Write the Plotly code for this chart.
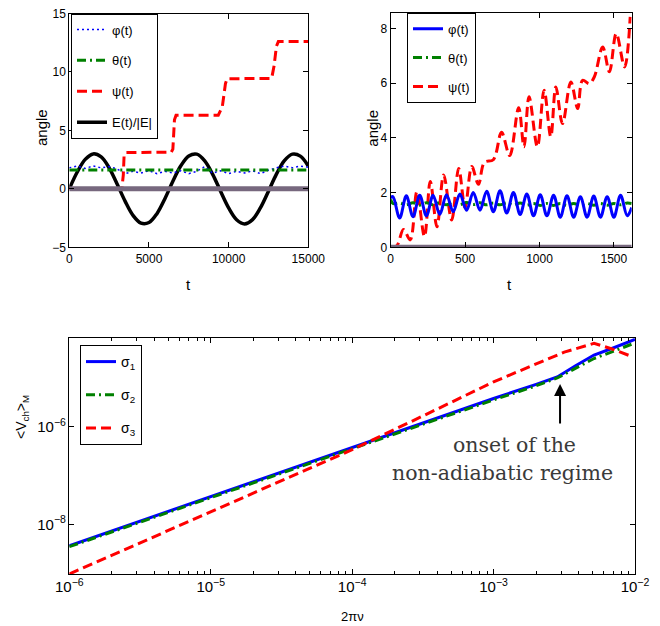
import plotly.graph_objects as go

W, H = 660, 626
OFF = 8  # page body margin of the browser
FW, FH = W - OFF, H - OFF
FONT = "Liberation Sans, Arial, sans-serif"

# ---------------- top-left panel data ----------------
tl_t = [0, 500, 1000, 1500, 2000, 2500, 3000, 3500, 4000, 4500, 5000, 5500, 6000, 6500,
        7000, 7500, 8000, 8500, 9000, 9500, 10000, 10500, 11000, 11500, 12000, 12500,
        13000, 13500, 14000, 14500, 15000]
tl_E = [0.0, 1.44, 2.52, 2.99, 2.73, 1.80, 0.42, -1.05, -2.27, -2.93, -2.88, -2.12, -0.84, 0.65,
        1.97, 2.81, 2.97, 2.40, 1.24, -0.23, -1.63, -2.64, -3.00, -2.63, -1.61, -0.20,
        1.26, 2.41, 2.97, 2.80, 1.95]
tl_phi = [1.8, 1.95, 1.75, 1.95, 1.8, 1.9, 1.7, 1.3, 1.5, 1.35, 1.55, 1.3, 1.5, 1.35, 1.55,
          1.3, 1.5, 1.9, 1.35, 1.55, 1.3, 1.5, 1.35, 1.55, 1.3, 1.6, 1.8, 1.95, 1.8, 1.95, 1.85]
tl_theta_t = [0, 15000]
tl_theta = [1.62, 1.62]
tl_psi_t = [0, 3300, 3390, 3440, 3560, 6400, 6500, 6600, 6700, 9350, 9600, 9800, 9900,
            12700, 12850, 13000, 13120, 15000]
tl_psi = [0.0, 0.0, 1.2, 2.9, 3.1, 3.14, 3.4, 5.9, 6.3, 6.3, 7.0, 9.0, 9.42, 9.45, 10.5,
          12.2, 12.6, 12.6]
tl_zero_t = [0, 15000]
tl_zero = [0, 0]

# ---------------- top-right panel data ----------------
tr_phi_t = [0, 15, 60, 105, 150, 195, 240, 285, 330, 375, 420, 465, 510, 555, 600, 645, 690,
            735, 780, 825, 870, 915, 960, 1005, 1050, 1095, 1140, 1185, 1230, 1275, 1320,
            1365, 1410, 1455, 1500, 1545, 1590, 1620]
tr_phi = [1.8, 1.85, 1.07, 1.88, 1.12, 1.9, 1.15, 1.9, 1.2, 1.92, 1.3, 1.95, 1.35, 2.0, 1.35,
          2.05, 1.3, 2.07, 1.25, 2.0, 1.2, 1.95, 1.15, 1.92, 1.15, 1.9, 1.1, 1.88, 1.1, 1.85,
          1.1, 1.87, 1.1, 1.85, 1.1, 1.9, 1.15, 1.45]
tr_theta = [1.75, 1.6, 1.62, 1.55, 1.63, 1.54, 1.63, 1.55, 1.63, 1.55, 1.64, 1.56, 1.64, 1.56,
            1.63, 1.55, 1.62, 1.55, 1.62, 1.54, 1.62, 1.54, 1.6, 1.53, 1.6, 1.53, 1.6, 1.53,
            1.6, 1.53, 1.6, 1.54, 1.6, 1.54, 1.6, 1.55, 1.62, 1.6]
tr_psi_t = [0, 40, 86, 131, 176, 227, 266, 311, 356, 410, 457, 500, 545, 590, 630, 690, 745,
            800, 860, 896, 930, 986, 1031, 1076, 1110, 1155, 1211, 1257, 1290, 1335, 1369,
            1425, 1470, 1516, 1572, 1610]
tr_psi = [0.0, 0.05, 0.65, 0.27, 2.03, 0.39, 2.4, 0.75, 2.64, 1.0, 2.88, 1.45, 2.95, 2.3, 3.1,
          3.2, 4.2, 3.35, 5.1, 3.67, 5.5, 3.67, 5.74, 4.04, 5.86, 4.52, 6.04, 5.07, 6.1, 5.98,
          6.23, 7.32, 6.41, 7.81, 6.59, 8.42]
tr_zero_t = [0, 1620]
tr_zero = [0, 0]

# ---------------- bottom panel data ----------------
b_nu12 = [1e-6, 1e-5, 1e-4, 1e-3, 2.0e-3, 2.82e-3, 3.8e-3, 5.13e-3, 7.08e-3, 1e-2]
b_sigma1 = [3.63e-9, 3.72e-8, 3.80e-7, 3.80e-6, 7.41e-6, 1.05e-5, 1.78e-5, 2.95e-5, 4.17e-5, 6.17e-5]
b_sigma2 = [3.47e-9, 3.55e-8, 3.55e-7, 3.55e-6, 6.92e-6, 1.0e-5, 1.58e-5, 2.51e-5, 3.55e-5, 5.25e-5]
b_nu3 = [1e-6, 3.16e-6, 1e-5, 3.16e-5, 1e-4, 3.16e-4, 1e-3, 3.16e-3, 5.13e-3, 6.8e-3, 9.3e-3]
b_sigma3 = [9.55e-10, 4.17e-9, 1.78e-8, 7.94e-8, 3.39e-7, 1.66e-6, 8.32e-6, 3.39e-5, 5.13e-5,
            3.98e-5, 2.82e-5]

BLUE, GREEN, RED = "#0000ff", "#008000", "#ff0000"
DASH = "10px,5px"
DASHDOT = "9px,4px,2px,4px"

fig = go.Figure()

# top-left
fig.add_trace(go.Scatter(x=tl_t, y=tl_E, mode="lines", line=dict(color="black", width=3.5, shape="spline"),
                         name="E(t)/|E|", legend="legend", legendgroup="a4", legendrank=4,
                         xaxis="x", yaxis="y"))
fig.add_trace(go.Scatter(x=tl_t, y=tl_phi, mode="lines", line=dict(color=BLUE, width=1.5, dash="2px,3px"),
                         name="φ(t)", legend="legend", legendgroup="a1", legendrank=1,
                         xaxis="x", yaxis="y"))
fig.add_trace(go.Scatter(x=tl_theta_t, y=tl_theta, mode="lines", line=dict(color=GREEN, width=3, dash=DASHDOT),
                         name="θ(t)", legend="legend", legendgroup="a2", legendrank=2,
                         xaxis="x", yaxis="y"))
fig.add_trace(go.Scatter(x=tl_psi_t, y=tl_psi, mode="lines", line=dict(color=RED, width=3, dash=DASH),
                         name="ψ(t)", legend="legend", legendgroup="a3", legendrank=3,
                         xaxis="x", yaxis="y"))
fig.add_trace(go.Scatter(x=tl_zero_t, y=tl_zero, mode="lines", line=dict(color="#77687e", width=5),
                         showlegend=False, xaxis="x", yaxis="y"))

# top-right
fig.add_trace(go.Scatter(x=tr_psi_t, y=tr_psi, mode="lines", line=dict(color=RED, width=3, dash=DASH, shape="spline"),
                         name="ψ(t)", legend="legend2", legendgroup="b3", legendrank=3,
                         xaxis="x2", yaxis="y2"))
fig.add_trace(go.Scatter(x=tr_phi_t, y=tr_theta, mode="lines", line=dict(color=GREEN, width=3, dash=DASHDOT, shape="spline"),
                         name="θ(t)", legend="legend2", legendgroup="b2", legendrank=2,
                         xaxis="x2", yaxis="y2"))
fig.add_trace(go.Scatter(x=tr_phi_t, y=tr_phi, mode="lines", line=dict(color=BLUE, width=3, shape="spline"),
                         name="φ(t)", legend="legend2", legendgroup="b1", legendrank=1,
                         xaxis="x2", yaxis="y2"))
fig.add_trace(go.Scatter(x=tr_zero_t, y=tr_zero, mode="lines", line=dict(color="#77687e", width=5),
                         showlegend=False, xaxis="x2", yaxis="y2"))

# bottom
fig.add_trace(go.Scatter(x=b_nu12, y=b_sigma1, mode="lines", line=dict(color=BLUE, width=3),
                         name="σ<sub>1</sub>", legend="legend3", legendgroup="c1", legendrank=1,
                         xaxis="x3", yaxis="y3"))
fig.add_trace(go.Scatter(x=b_nu12, y=b_sigma2, mode="lines", line=dict(color=GREEN, width=3, dash=DASHDOT),
                         name="σ<sub>2</sub>", legend="legend3", legendgroup="c2", legendrank=2,
                         xaxis="x3", yaxis="y3"))
fig.add_trace(go.Scatter(x=b_nu3, y=b_sigma3, mode="lines", line=dict(color=RED, width=3, dash=DASH),
                         name="σ<sub>3</sub>", legend="legend3", legendgroup="c3", legendrank=3,
                         xaxis="x3", yaxis="y3"))

def px_x(p):
    return (p - OFF) / FW

def px_y(p):
    return 1 - (p - OFF) / FH

axis_common = dict(showline=True, linecolor="black", linewidth=1, mirror="ticks", ticks="inside",
                   ticklen=5, tickcolor="black", showgrid=False, zeroline=False, automargin=False,
                   ticklabeloverflow="allow",
                   tickfont=dict(family=FONT, size=12, color="black"))

fig.update_layout(
    width=FW, height=FH, margin=dict(l=0, r=0, t=0, b=0, autoexpand=False),
    paper_bgcolor="white", plot_bgcolor="white",
    font=dict(family=FONT, size=13, color="black"),
    xaxis=dict(axis_common, domain=[px_x(69.3), px_x(308.3)], range=[0, 15000], dtick=5000,
               tickformat="d", anchor="y"),
    yaxis=dict(axis_common, domain=[px_y(247.3), px_y(13.5)], range=[-5, 15], dtick=5,
               anchor="x"),
    xaxis2=dict(axis_common, domain=[px_x(390.7), px_x(631.7)], range=[0, 1620], dtick=500,
                tickformat="d", anchor="y2"),
    yaxis2=dict(axis_common, domain=[px_y(247.3), px_y(12.7)], range=[0, 8.57], dtick=2,
                anchor="x2"),
    xaxis3=dict(axis_common, type="log", domain=[px_x(69.3), px_x(635)], range=[-6, -2], dtick=1,
                exponentformat="power", anchor="y3",
                minor=dict(ticks="inside", ticklen=3, tickcolor="black", dtick="D1", showgrid=False)),
    yaxis3=dict(axis_common, type="log", domain=[px_y(574), px_y(338)], range=[-9.02, -4.18],
                dtick=2, tick0=0, exponentformat="power", anchor="x3"),
    legend=dict(x=px_x(71), y=px_y(13.5), xanchor="left", yanchor="top",
                bordercolor="black", borderwidth=1, bgcolor="white",
                font=dict(family=FONT, size=13), tracegroupgap=11, traceorder="grouped",
                entrywidth=90),
    legend2=dict(x=px_x(407), y=px_y(12.7), xanchor="left", yanchor="top",
                 bordercolor="black", borderwidth=1, bgcolor="white",
                 font=dict(family=FONT, size=13), tracegroupgap=9, traceorder="grouped",
                 entrywidth=72),
    legend3=dict(x=px_x(80), y=px_y(345), xanchor="left", yanchor="top",
                 bordercolor="black", borderwidth=1, bgcolor="white",
                 font=dict(family=FONT, size=14), tracegroupgap=12, traceorder="grouped",
                 entrywidth=66),
)

ann = []
def label(text, xp, yp, angle=0, size=15, family=FONT, color="black"):
    ann.append(dict(text=text, xref="paper", yref="paper", x=px_x(xp), y=px_y(yp),
                    xanchor="center", yanchor="middle", showarrow=False, textangle=angle,
                    font=dict(family=family, size=size, color=color)))

label("angle", 41, 128, angle=-90)
label("t", 188, 285)
label("angle", 371.7, 128, angle=-90)
label("t", 509, 285)
label("&lt;V<sub>ch</sub>&gt;<sub>M</sub>", 22, 417, angle=-90, size=14)
label("2πν", 352.7, 616.7, size=13)
label("onset of the", 515, 445, size=20.5, family="DejaVu Serif, serif", color="#3a3a3a")
label("non-adiabatic regime", 502.5, 472.7, size=20.5, family="DejaVu Serif, serif", color="#3a3a3a")

ann.append(dict(text="", x=-2.53, y=-5.125, xref="x3", yref="y3", ax=-2.53, ay=-5.965,
                axref="x3", ayref="y3", showarrow=True, arrowhead=2, arrowsize=1.2,
                arrowwidth=2, arrowcolor="black"))
fig.update_layout(annotations=ann)

fig.write_html("out.html")
